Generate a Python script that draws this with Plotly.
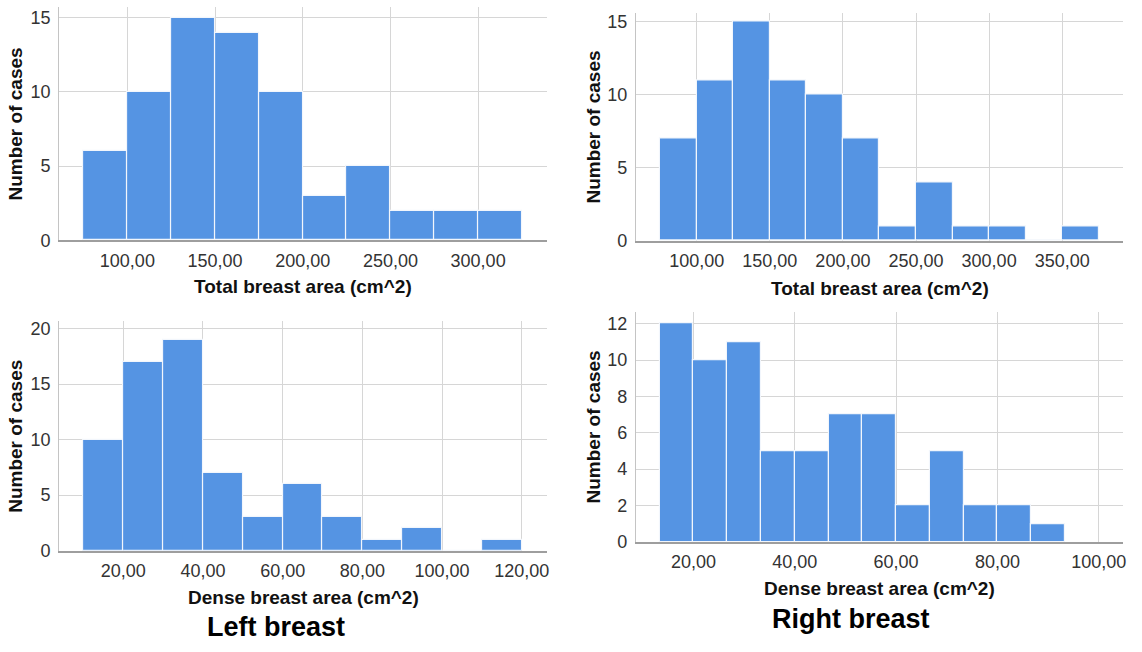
import plotly.graph_objects as go

W, H = 1142, 652
FONT = "Liberation Sans, Arial, Helvetica, sans-serif"
BAR_COLOR = "#5594e3"

# ---------------- data ----------------
# Top-left: Left breast, total area
tl_bin_start = [75, 100, 125, 150, 175, 200, 225, 250, 275, 300]
tl_bin_width = 25
tl_counts = [6, 10, 15, 14, 10, 3, 5, 2, 2, 2]
tl_xticks = [100, 150, 200, 250, 300]
tl_xlabels = ["100,00", "150,00", "200,00", "250,00", "300,00"]
tl_yticks = [0, 5, 10, 15]

# Top-right: Right breast, total area
tr_bin_start = [75, 100, 125, 150, 175, 200, 225, 250, 275, 300, 325, 350]
tr_bin_width = 25
tr_counts = [7, 11, 15, 11, 10, 7, 1, 4, 1, 1, 0, 1]
tr_xticks = [100, 150, 200, 250, 300, 350]
tr_xlabels = ["100,00", "150,00", "200,00", "250,00", "300,00", "350,00"]
tr_yticks = [0, 5, 10, 15]

# Bottom-left: Left breast, dense area
bl_bin_start = [10, 20, 30, 40, 50, 60, 70, 80, 90, 100, 110]
bl_bin_width = 10
bl_counts = [10, 17, 19, 7, 3, 6, 3, 1, 2, 0, 1]
bl_xticks = [20, 40, 60, 80, 100, 120]
bl_xlabels = ["20,00", "40,00", "60,00", "80,00", "100,00", "120,00"]
bl_yticks = [0, 5, 10, 15, 20]

# Bottom-right: Right breast, dense area
br_bin_start = [13.333, 20.0, 26.667, 33.333, 40.0, 46.667, 53.333, 60.0,
                66.667, 73.333, 80.0, 86.667]
br_bin_width = 6.667
br_counts = [12, 10, 11, 5, 5, 7, 7, 2, 5, 2, 2, 1]
br_xticks = [20, 40, 60, 80, 100]
br_xlabels = ["20,00", "40,00", "60,00", "80,00", "100,00"]
br_yticks = [0, 2, 4, 6, 8, 10, 12]

x_title_total = "Total breast area (cm^2)"
x_title_dense = "Dense breast area (cm^2)"
y_title = "Number of cases"
caption_left = "Left breast"
caption_right = "Right breast"

# ---------------- layout geometry (pixels) ----------------
panels = [
    # (bin_start, width, counts, xticks, xlabels, yticks, xrange, yrange, px box l,r,t,b, xtitle, xtitle_y)
    dict(s=tl_bin_start, w=tl_bin_width, c=tl_counts, xt=tl_xticks, xl=tl_xlabels,
         yt=tl_yticks, xr=[61.1, 339.2], yr=[0, 15.73], box=(59.3, 548.3, 5.0, 242.7),
         xtitle=x_title_total, xty=290),
    dict(s=tr_bin_start, w=tr_bin_width, c=tr_counts, xt=tr_xticks, xl=tr_xlabels,
         yt=tr_yticks, xr=[58.5, 391.6], yr=[0, 15.55], box=(637.7, 1126.0, 11.7, 243.3),
         xtitle=x_title_total, xty=292),
    dict(s=bl_bin_start, w=bl_bin_width, c=bl_counts, xt=bl_xticks, xl=bl_xlabels,
         yt=bl_yticks, xr=[3.9, 126.3], yr=[0, 20.67], box=(59.3, 548.3, 325.0, 559.0),
         xtitle=x_title_dense, xty=606.5),
    dict(s=br_bin_start, w=br_bin_width, c=br_counts, xt=br_xticks, xl=br_xlabels,
         yt=br_yticks, xr=[8.66, 104.8], yr=[0, 12.63], box=(637.7, 1126.0, 316.0, 550.0),
         xtitle=x_title_dense, xty=597.5),
]

fig = go.Figure()
layout = dict(
    width=W, height=H, margin=dict(l=0, r=0, t=0, b=0),
    paper_bgcolor="white", plot_bgcolor="white", showlegend=False,
    bargap=0, font=dict(family=FONT, color="#333333"),
)
annotations = []

for i, p in enumerate(panels, start=1):
    xa = "x" if i == 1 else f"x{i}"
    ya = "y" if i == 1 else f"y{i}"
    centers = [s + p["w"] / 2 for s in p["s"]]
    fig.add_trace(go.Bar(
        x=centers, y=p["c"], width=[p["w"]] * len(centers),
        marker=dict(color=BAR_COLOR, line=dict(color="#f2f6fc", width=1.2)),
        xaxis=xa, yaxis=ya, hoverinfo="x+y",
    ))
    l, r, t, b = p["box"]
    xdom = [l / W, r / W]
    ydom = [1 - b / H, 1 - t / H]
    xkey = "xaxis" if i == 1 else f"xaxis{i}"
    ykey = "yaxis" if i == 1 else f"yaxis{i}"
    layout[xkey] = dict(
        domain=xdom, anchor=ya, range=p["xr"], tickmode="array",
        tickvals=p["xt"], ticktext=p["xl"], showgrid=True, gridcolor="#d6d6d6",
        gridwidth=1, zeroline=False, showline=True, linecolor="#9e9e9e", linewidth=1.5,
        ticks="", ticklabelstandoff=3, tickfont=dict(size=18, color="#333333", family=FONT),
        fixedrange=True,
    )
    layout[ykey] = dict(
        domain=ydom, anchor=xa, range=p["yr"], tickmode="array",
        tickvals=p["yt"], ticktext=[str(v) for v in p["yt"]], showgrid=True,
        gridcolor="#d6d6d6", gridwidth=1, zeroline=False, showline=True,
        linecolor="#c4c4c4", linewidth=1.2, ticks="", ticklabelstandoff=4,
        tickfont=dict(size=18, color="#333333", family=FONT), fixedrange=True,
    )
    # x-axis title
    annotations.append(dict(
        text=f"<b>{p['xtitle']}</b>", x=((l + r) / 2) / W, y=1 - p["xty"] / H,
        xref="paper", yref="paper", xanchor="center", yanchor="middle",
        showarrow=False, font=dict(size=19, color="#111111", family=FONT),
    ))
    # y-axis title
    ytx = 16 if l < 300 else 595
    annotations.append(dict(
        text=f"<b>{y_title}</b>", x=ytx / W, y=1 - ((t + b) / 2) / H,
        xref="paper", yref="paper", xanchor="center", yanchor="middle",
        textangle=-90, showarrow=False,
        font=dict(size=19, color="#111111", family=FONT),
    ))

annotations.append(dict(
    text=f"<b>{caption_left}</b>", x=277 / W, y=1 - 637 / H, xref="paper", yref="paper",
    xanchor="center", yanchor="middle", showarrow=False,
    font=dict(size=27, color="#000000", family=FONT),
))
annotations.append(dict(
    text=f"<b>{caption_right}</b>", x=853.5 / W, y=1 - 629 / H, xref="paper", yref="paper",
    xanchor="center", yanchor="middle", showarrow=False,
    font=dict(size=27, color="#000000", family=FONT),
))

layout["annotations"] = annotations
fig.update_layout(**layout)
fig.write_html("out.html")
